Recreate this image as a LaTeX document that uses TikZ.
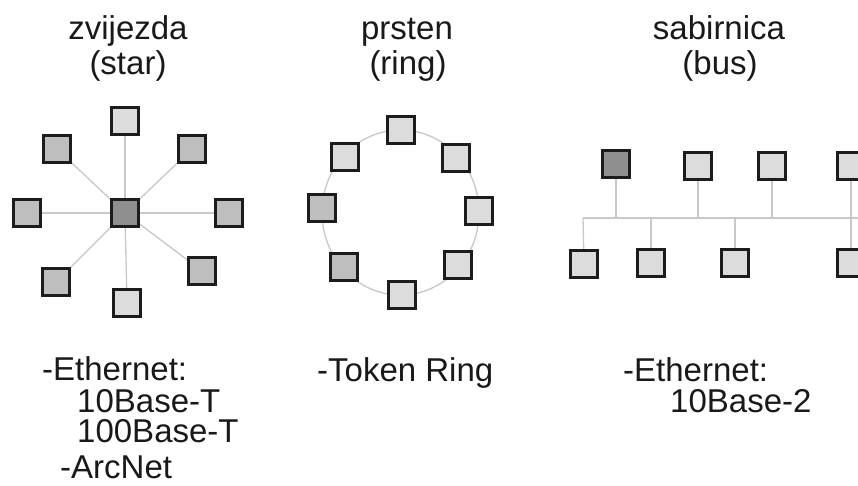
\documentclass[tikz,border=0pt]{standalone}
\usepackage{fontspec}
\setmainfont{Liberation Sans}
\pgfdeclarelayer{background}
\pgfsetlayers{background,main}
\definecolor{boxedge}{HTML}{1C1C1C}
\definecolor{hostlight}{HTML}{DCDCDC}
\definecolor{hostmid}{HTML}{BEBEBE}
\definecolor{hostdark}{HTML}{8F8F8F}
\definecolor{wirecol}{HTML}{C8C8C8}
\begin{document}
\begin{tikzpicture}[x=1pt,y=-1pt,
  host/.style={draw=boxedge, line width=3.4pt, minimum size=27.5pt, inner sep=0pt, fill=hostlight},
  mid/.style={host, fill=hostmid},
  hub/.style={host, fill=hostdark},
  wire/.style={draw=wirecol, line width=1.3pt},
  lbl/.style={inner sep=0pt, text=black!90, font=\fontsize{33}{36}\selectfont}]
\useasboundingbox (0,0) rectangle (858,485);
\clip (0,0) rectangle (858,485);

% titles
\node[lbl, anchor=base] (t1) at (128,39) {zvijezda};
\node[lbl, anchor=base] (t1b) at (128,74) {(star)};
\node[lbl, anchor=base] (t2) at (407,39) {prsten};
\node[lbl, anchor=base] (t2b) at (408,74) {(ring)};
\node[lbl, anchor=base] (t3) at (719,39) {sabirnica};
\node[lbl, anchor=base] (t3b) at (720,74) {(bus)};

% star
\node[hub] (s0) at (125,213) {};
\node[host] (s1) at (125,121) {};
\node[mid] (s2) at (192,149) {};
\node[mid] (s3) at (229,213) {};
\node[mid] (s4) at (202,271) {};
\node[host] (s5) at (127,303) {};
\node[mid] (s6) at (56,282) {};
\node[mid] (s7) at (27,213) {};
\node[mid] (s8) at (57,149) {};

% ring
\coordinate (rc) at (400.5,212.5);
\node[host] (r1) at (401,130) {};
\node[host] (r2) at (456,158) {};
\node[host] (r3) at (479,211) {};
\node[host] (r4) at (458,265) {};
\node[host] (r5) at (402,295) {};
\node[mid] (r6) at (344,267) {};
\node[mid] (r7) at (322,208) {};
\node[host] (r8) at (345,157) {};

% bus
\coordinate (busL) at (583,218);
\coordinate (busR) at (858,218);
\node[hub] (u1) at (616,164) {};
\node[host] (u2) at (698,166) {};
\node[host] (u3) at (772,166) {};
\node[host] (u4) at (851,166) {};
\node[host] (d1) at (584,264) {};
\node[host] (d2) at (651,263) {};
\node[host] (d3) at (735,263) {};
\node[host] (d4) at (851,263) {};

% cabling, kept behind the hosts
\begin{pgfonlayer}{background}
  \fill[white] (0,0) rectangle (858,485);
  \foreach \k in {1,...,8} \draw[wire] (s0.center) -- (s\k.center);
  \draw[wire] (rc) ellipse [x radius=78.5, y radius=82.5];
  \draw[wire] (busL) -- (busR);
  \foreach \n in {u1,u2,u3,u4,d2,d3,d4} \draw[wire] (\n.center) -- (\n.center |- busL);
  \draw[wire] (d1.center) -- (busL);
\end{pgfonlayer}

% protocols
\node[lbl, anchor=base west] (p1) at (42,380) {-Ethernet:};
\node[lbl, anchor=base west] (p2) at (77,412) {10Base-T};
\node[lbl, anchor=base west] (p3) at (77,442) {100Base-T};
\node[lbl, anchor=base west] (p4) at (60,478.5) {-ArcNet};
\node[lbl, anchor=base west] (p5) at (317,381) {-Token Ring};
\node[lbl, anchor=base west] (p6) at (623,381) {-Ethernet:};
\node[lbl, anchor=base west] (p7) at (670,412) {10Base-2};
\end{tikzpicture}
\end{document}
